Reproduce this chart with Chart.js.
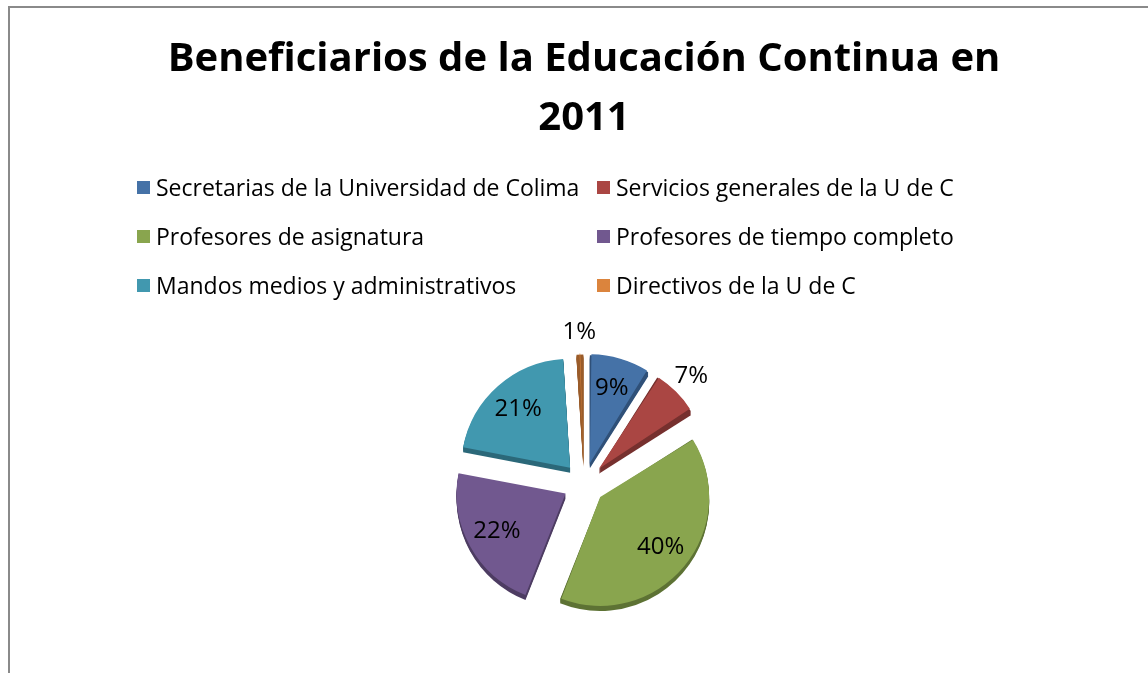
<!DOCTYPE html>
<html>

<head>
    <title>Beneficiarios de la Educación Continua en 2011</title>
    <script src="https://cdn.jsdelivr.net/npm/chart.js"></script>
    <style>
        body {
            margin: 0;
            background: white;
            font-family: "Open Sans", sans-serif;
        }

        .frame {
            position: absolute;
            left: 8px;
            top: 6px;
            width: 1200px;
            height: 700px;
            border-top: 2px solid #8a8a8a;
            border-left: 2px solid #8a8a8a;
        }

        #chartBox {
            position: absolute;
            left: 0;
            top: 0;
        }

        .legend {
            position: absolute;
            left: 137px;
            top: 172px;
            display: grid;
            grid-template-columns: 460px 400px;
            row-gap: 19px;
            font-size: 23px;
            color: #000;
        }

        .legend-item {
            display: flex;
            align-items: center;
            height: 30px;
            white-space: nowrap;
        }

        .swatch {
            width: 13px;
            height: 13px;
            margin-right: 6px;
            flex: none;
        }
    </style>
</head>

<body>
    <div class="frame"></div>
    <canvas id="chartBox" width="1148" height="673"></canvas>
    <div class="legend" id="legend"></div>

    <script>
        // data (percent of beneficiaries)
        const categories = [
            'Secretarias de la Universidad de Colima',
            'Servicios generales de la U de C',
            'Profesores de asignatura',
            'Profesores de tiempo completo',
            'Mandos medios y administrativos',
            'Directivos de la U de C'
        ];
        const percents = [9, 7, 40, 22, 21, 1];

        const colors = ['#4572A7', '#AA4643', '#89A54E', '#71588F', '#4198AF', '#DB843D'];
        const sideColors = ['#2f5078', '#76302e', '#5d7234', '#4d3c62', '#2b6879', '#9a5c2a'];
        const PIE_RADIUS = 109;

        function buildLegend() {
            const box = document.getElementById('legend');
            box.innerHTML = categories.map((c, i) => `
                <div class="legend-item">
                    <span class="swatch" style="background:${colors[i]}"></span>${c}
                </div>`).join('');
        }

        // chart.js grows small exploded slices a bit; pull them back so all share one radius
        function radiusFix(arc) {
            const off = (arc.options.offset || 0) / 4;
            return off * (1 - Math.sin(Math.min(Math.PI, arc.circumference || 0)));
        }

        const equalRadius = {
            id: 'equalRadius',
            afterDatasetsUpdate(chart) {
                chart.getDatasetMeta(0).data.forEach(arc => {
                    arc.outerRadius = PIE_RADIUS - radiusFix(arc);
                });
            }
        };

        // darker copy of every slice, pushed down, to fake the 3D edge
        const depthPlugin = {
            id: 'depth',
            beforeDatasetsDraw(chart) {
                const ctx = chart.ctx;
                const meta = chart.getDatasetMeta(0);
                meta.data.forEach((arc, i) => {
                    const off = (arc.options.offset || 0) / 4;
                    const mid = (arc.startAngle + arc.endAngle) / 2;
                    const r = arc.outerRadius + radiusFix(arc);
                    const cx = arc.x + Math.cos(mid) * off;
                    const cy = arc.y + Math.sin(mid) * off;
                    ctx.save();
                    ctx.fillStyle = sideColors[i];
                    for (let d = 1; d <= 5; d++) {
                        ctx.beginPath();
                        ctx.moveTo(cx, cy + d);
                        ctx.arc(cx, cy + d, r, arc.startAngle, arc.endAngle);
                        ctx.closePath();
                        ctx.fill();
                    }
                    ctx.restore();
                });
            }
        };

        const labelPlugin = {
            id: 'pctLabels',
            afterDatasetsDraw(chart) {
                const ctx = chart.ctx;
                const meta = chart.getDatasetMeta(0);
                ctx.save();
                ctx.font = '24px "Open Sans"';
                ctx.fillStyle = '#000';
                ctx.textAlign = 'center';
                ctx.textBaseline = 'middle';
                meta.data.forEach((arc, i) => {
                    const off = (arc.options.offset || 0) / 4;
                    const mid = (arc.startAngle + arc.endAngle) / 2;
                    const k = percents[i] < 8 ? 1.2 : 0.72;
                    const r = off + PIE_RADIUS * k;
                    ctx.fillText(percents[i] + '%', arc.x + Math.cos(mid) * r, arc.y + Math.sin(mid) * r);
                });
                ctx.restore();
            }
        };

        function createChart() {
            const ctx = document.getElementById('chartBox').getContext('2d');
            new Chart(ctx, {
                type: 'pie',
                data: {
                    labels: categories,
                    datasets: [{
                        data: percents,
                        backgroundColor: colors,
                        borderWidth: 0,
                        offset: 84,
                        radius: PIE_RADIUS
                    }]
                },
                options: {
                    responsive: false,
                    animation: false,
                    events: [],
                    layout: {
                        padding: { left: 20, right: 0, top: 0, bottom: 18 }
                    },
                    plugins: {
                        legend: { display: false },
                        tooltip: { enabled: false },
                        title: {
                            display: true,
                            text: ['Beneficiarios de la Educación Continua en', '2011'],
                            color: '#000',
                            font: { family: 'Open Sans', size: 40, weight: 'bold', lineHeight: 1.475 },
                            padding: { top: 30, bottom: 164 }
                        }
                    }
                },
                plugins: [equalRadius, depthPlugin, labelPlugin]
            });
        }

        buildLegend();
        createChart();
    </script>
</body>

</html>
